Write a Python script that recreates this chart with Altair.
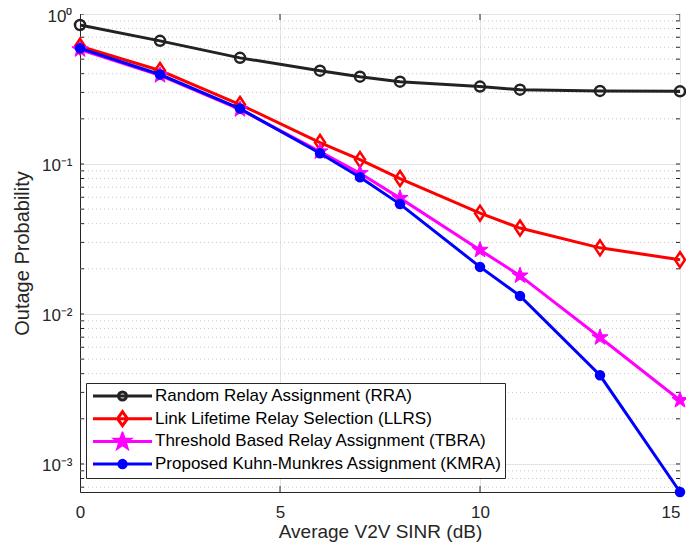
import math
import altair as alt
import pandas as pd

FONT = "Liberation Sans"

# ---- data ----
snr = [0, 2, 4, 6, 7, 8, 10, 11, 13, 15]
rra = [0.845, 0.662, 0.51, 0.419, 0.382, 0.354, 0.328, 0.313, 0.307, 0.305]
llrs = [0.61, 0.42, 0.249, 0.139, 0.107, 0.080, 0.047, 0.0374, 0.0276, 0.023]
tbra = [0.58, 0.39, 0.231, 0.121, 0.0867, 0.0592, 0.0267, 0.018, 0.00697, 0.00266]
kmra = [0.59, 0.395, 0.234, 0.118, 0.0816, 0.054, 0.0206, 0.0132, 0.0039, 0.00065]

series_names = [
    "Random Relay Assignment (RRA)",
    "Link Lifetime Relay Selection (LLRS)",
    "Threshold Based Relay Assignment (TBRA)",
    "Proposed Kuhn-Munkres Assignment (KMRA)",
]
series_values = [rra, llrs, tbra, kmra]
colors = ["#222222", "#ff0000", "#ff00ff", "#0000ff"]

x_ticks = [0, 5, 10, 15]
y_ticks = [1, 0.1, 0.01, 0.001]
y_tick_labels = ["10⁰", "10⁻¹", "10⁻²", "10⁻³"]
y_min, y_max = 0.00065, 1.0
x_min, x_max = 0, 15

rows = []
for name, vals in zip(series_names, series_values):
    for x, v in zip(snr, vals):
        rows.append({"series": name, "snr": x, "p": v})
df = pd.DataFrame(rows)

minor = [m * 10.0 ** e for e in range(-4, 0) for m in range(2, 10) if y_min <= m * 10.0 ** e < 1]
minor_df = pd.DataFrame({"v": minor})
ytick_df = pd.DataFrame({"v": minor + y_ticks})
xtick_df = pd.DataFrame({"v": x_ticks})


# ---- marker shapes (SVG paths in Vega symbol units) ----
def circle(r):
    return f"M{r},0A{r},{r},0,1,1,{-r},0A{r},{r},0,1,1,{r},0Z"


def diamond(w, h):
    return f"M0,{-h}L{w},0L0,{h}L{-w},0Z"


def star(R, r):
    pts = []
    for k in range(10):
        a = math.radians(-90 + 36 * k)
        rad = R if k % 2 == 0 else r
        pts.append(f"{rad * math.cos(a):.3f},{rad * math.sin(a):.3f}")
    return "M" + "L".join(pts) + "Z"


plot_shapes = [circle(1.0), diamond(1.0, 1.5), star(1.7, 0.68), circle(0.8)]
plot_filled = [False, False, True, True]
plot_sw = [2.5, 2.5, 1.0, 2.5]

seg = "M-5.9,0H5.9"
legend_shapes = [seg + circle(0.8), seg + diamond(1.0, 1.4), seg + star(1.5, 0.6), seg + circle(0.75)]
legend_fills = ["transparent", "transparent", colors[2], colors[3]]

# ---- scales & axes ----
xs = alt.Scale(domain=[x_min, x_max], nice=False, zero=False)
ys = alt.Scale(type="log", domain=[y_min, y_max], nice=False)

label_expr = (
    f"datum.value >= 0.5 ? '{y_tick_labels[0]}' : datum.value >= 0.05 ? '{y_tick_labels[1]}' : "
    f"datum.value >= 0.005 ? '{y_tick_labels[2]}' : '{y_tick_labels[3]}'"
)

AX = "#262626"
x_axis = alt.Axis(
    values=x_ticks, format="d", title="Average V2V SINR (dB)",
    labelFont=FONT, titleFont=FONT, labelFontSize=17, titleFontSize=19,
    titleFontWeight="normal", labelColor=AX, titleColor=AX,
    ticks=False, labelPadding=12, titlePadding=2,
    labelAlign={"condition": {"test": "datum.value == 15", "value": "right"}, "value": "center"},
    grid=True, gridColor="#e3e3e3", gridWidth=1,
    domainColor=AX, domainWidth=1,
)
y_axis = alt.Axis(
    values=y_ticks, labelExpr=label_expr, title="Outage Probability",
    labelFont=FONT, titleFont=FONT, labelFontSize=17, titleFontSize=20,
    titleFontWeight="normal", labelColor=AX, titleColor=AX,
    ticks=False, labelPadding=8, labelOffset=2, titlePadding=9,
    grid=True, gridColor="#e3e3e3", gridWidth=1,
    domainColor=AX, domainWidth=1,
)

layers = []
grid = alt.Chart(minor_df).mark_rule(stroke="#c8c8c8", strokeDash=[1, 3], strokeWidth=1).encode(
    y=alt.Y("v:Q", scale=ys, axis=y_axis),
    x=alt.X(datum=x_min, type="quantitative", scale=xs, axis=x_axis),
    x2=alt.X2(datum=x_max),
)
layers.append(grid)

# inward ticks (clipped half of a centred tick) on all four sides
for xd in (x_min, x_max):
    layers.append(
        alt.Chart(ytick_df).mark_tick(orient="horizontal", size=8, thickness=1, color=AX, clip=True, opacity=1).encode(
            y=alt.Y("v:Q", scale=ys, axis=y_axis),
            x=alt.X(datum=xd, type="quantitative", scale=xs, axis=x_axis),
        )
    )
for yd in (y_min, y_max):
    layers.append(
        alt.Chart(xtick_df).mark_tick(orient="vertical", size=12, thickness=1, color=AX, clip=True, opacity=1).encode(
            x=alt.X("v:Q", scale=xs, axis=x_axis),
            y=alt.Y(datum=yd, type="quantitative", scale=ys, axis=y_axis),
        )
    )

for i, (name, col) in enumerate(zip(series_names, colors)):
    base = alt.Chart(df).transform_filter(alt.datum.series == name)
    enc = dict(
        x=alt.X("snr:Q", scale=xs, axis=x_axis),
        y=alt.Y("p:Q", scale=ys, axis=y_axis),
    )
    line = base.mark_line(color=col, strokeWidth=3, clip=False).encode(**enc)
    pt_kw = dict(shape=plot_shapes[i], size=100, stroke=col, strokeWidth=plot_sw[i], opacity=1, clip=False)
    if plot_filled[i]:
        pts = base.mark_point(filled=True, fill=col, **pt_kw)
    else:
        pts = base.mark_point(filled=False, fill="transparent", **pt_kw)
    pts = pts.encode(**enc)
    layers += [line, pts]

leg_kw = dict(
    title=None, orient="none", legendX=6, legendY=369,
    symbolSize=100, symbolStrokeWidth=3,
    labelFontSize=17, labelFont=FONT, labelColor="#000000", labelLimit=0,
    padding=3, rowPadding=2.7, clipHeight=20, strokeColor=AX, fillColor="white",
    labelOffset=24, symbolOffset=25,
)
legend_layer = alt.Chart(df).transform_filter("false").mark_point(opacity=1, strokeWidth=3).encode(
    x=alt.X("snr:Q", scale=xs, axis=x_axis),
    y=alt.Y("p:Q", scale=ys, axis=y_axis),
    stroke=alt.Stroke("series:N", scale=alt.Scale(domain=series_names, range=colors), legend=alt.Legend(**leg_kw)),
    fill=alt.Fill("series:N", scale=alt.Scale(domain=series_names, range=legend_fills), legend=alt.Legend(**leg_kw)),
    shape=alt.Shape("series:N", scale=alt.Scale(domain=series_names, range=legend_shapes), legend=alt.Legend(**leg_kw)),
)
layers.append(legend_layer)

chart = (
    alt.layer(*layers)
    .properties(
        width=600, height=478,
        padding={"left": 72, "top": 6, "right": 6, "bottom": 50},
        autosize=alt.AutoSizeParams(type="none"),
    )
    .configure_view(stroke=AX, strokeWidth=1)
    .configure(font=FONT)
)

chart.save("out.html", embed_options={"renderer": "svg", "actions": False})
